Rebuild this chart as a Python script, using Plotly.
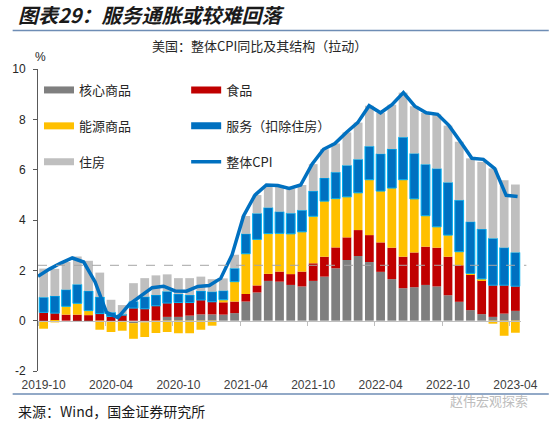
import plotly.graph_objects as go
import pandas as pd

# ---------------- data ----------------
months = pd.date_range("2019-10-01", "2023-04-01", freq="MS").strftime("%Y-%m").tolist()
tick_labels = ["2019-10", "2020-04", "2020-10", "2021-04", "2021-10", "2022-04", "2022-10", "2023-04"]

core_goods = [-0.02, 0, 0, -0.05, -0.05, 0, -0.05, -0.03, -0.1, -0.07,
              0, 0.15, 0.15, 0.2, 0.25, 0.25, 0.24, 0.3, 0.76, 1.12,
              1.58, 1.55, 1.42, 1.36, 1.58, 1.75, 2.08, 2.41, 2.57, 2.33,
              1.94, 1.65, 1.29, 1.33, 1.42, 1.36, 1.01, 0.75, 0.42, 0.26,
              0.15, 0.28, 0.39]
food = [0.33, 0.3, 0.24, 0.24, 0.22, 0.28, 0.17, 0.22, 0.5, 0.47,
        0.59, 0.55, 0.57, 0.52, 0.57, 0.5, 0.49, 0.46, 0.3, 0.28,
        0.28, 0.4, 0.43, 0.59, 0.7, 0.79, 0.83, 0.9, 1.03, 1.07,
        1.17, 1.25, 1.25, 1.38, 1.52, 1.54, 1.53, 1.45, 1.42, 1.35,
        1.26, 1.13, 0.98]
energy = [-0.3, -0.07, 0.33, 0.45, 0.18, -0.36, -0.4, -0.37, -0.62, -0.58,
          -0.49, -0.45, -0.5, -0.5, -0.36, -0.2, 0.1, 0.79, 1.6, 1.83,
          1.6, 1.52, 1.6, 1.58, 1.87, 2.21, 1.94, 1.61, 1.48, 2.2,
          2.04, 2.37, 3.06, 2.13, 1.23, 0.83, 0.86, 0.54, 0.04, 0.05,
          -0.12, -0.6, -0.48]
services_ex_shelter = [0.6, 0.68, 0.66, 0.75, 0.78, 0.66, 0.16, 0.03, 0.26, 0.48,
                       0.43, 0.46, 0.34, 0.3, 0.36, 0.4, 0.36, 0.53, 0.79, 1.03,
                       1.03, 0.86, 0.82, 0.86, 1.0, 0.92, 1.05, 1.25, 1.33, 1.33,
                       1.48, 1.55, 1.69, 1.8, 2.04, 2.31, 2.09, 2.05, 2.05, 1.98,
                       1.86, 1.49, 1.34]
shelter = [1.14, 1.08, 1.1, 1.11, 1.2, 0.97, 0.5, 0.37, 0.73, 0.74,
           0.78, 0.68, 0.63, 0.67, 0.57, 0.5, 0.49, 0.54, 0.71, 0.73,
           0.9, 1.04, 0.98, 1.0, 1.07, 1.14, 1.14, 1.31, 1.46, 1.61,
           1.63, 1.76, 1.77, 1.88, 2.05, 2.16, 2.26, 2.32, 2.52, 2.67,
           2.78, 2.68, 2.7]
cpi = [1.76, 2.05, 2.29, 2.49, 2.33, 1.54, 0.33, 0.12, 0.65, 0.99,
       1.31, 1.37, 1.18, 1.17, 1.36, 1.40, 1.68, 2.62, 4.16, 4.99,
       5.39, 5.37, 5.25, 5.39, 6.22, 6.81, 7.04, 7.48, 7.87, 8.54,
       8.26, 8.58, 9.06, 8.52, 8.26, 8.20, 7.75, 7.11, 6.45, 6.41,
       6.04, 4.98, 4.93]
ref_level = 2.2
y_ticks = [-2, 0, 2, 4, 6, 8, 10]

# ---------------- layout helpers ----------------
W, H = 550, 423
L, R, T, B = 26, 521.5, 69, 371


def px(x):
    return (x - L) / (R - L)


def py(y):
    return (B - y) / (B - T)


C_CORE = "#7F7F7F"
C_FOOD = "#C00000"
C_ENERGY = "#FFC000"
C_SERV = "#0070C0"
C_SERV_EDGE = "#00B0F0"
C_SHELTER = "#BFBFBF"
C_LINE = "#0070C0"

fig = go.Figure()

bar_series = [
    ("核心商品", core_goods, C_CORE, None),
    ("食品", food, C_FOOD, None),
    ("能源商品", energy, C_ENERGY, None),
    ("服务（扣除住房）", services_ex_shelter, C_SERV, C_SERV_EDGE),
    ("住房", shelter, C_SHELTER, None),
]
for name, vals, col, edge in bar_series:
    fig.add_trace(go.Bar(
        x=months, y=vals, name=name, showlegend=False,
        marker=dict(color=col, line=dict(color=edge if edge else col, width=1 if edge else 0)),
        hoverinfo="skip",
    ))

# invisible trace so the zero-line tick axis is rendered
fig.add_trace(go.Scatter(x=list(range(len(months))), y=cpi, xaxis="x2", mode="markers",
                         marker=dict(opacity=0), showlegend=False, hoverinfo="skip"))

fig.add_trace(go.Scatter(
    x=list(range(len(months))), y=cpi, xaxis="x3", name="整体CPI", mode="lines",
    line=dict(color=C_LINE, width=3.5), showlegend=False, hoverinfo="skip",
))

# legend-only entries (wide rectangular swatches)
legend_items = [
    ("核心商品", C_CORE, 7, "legend"),
    ("能源商品", C_ENERGY, 7, "legend"),
    ("住房", C_SHELTER, 7, "legend"),
    ("食品", C_FOOD, 7, "legend2"),
    ("服务（扣除住房）", C_SERV, 7, "legend2"),
    ("整体CPI", C_LINE, 3.5, "legend2"),
]
for i, (name, col, wdt, lg) in enumerate(legend_items):
    fig.add_trace(go.Scatter(
        x=[None], y=[None], mode="lines", name=name, legend=lg, legendgroup=f"g{i}",
        line=dict(color=col, width=wdt), hoverinfo="skip",
    ))

legend_common = dict(
    orientation="v", yanchor="top", xanchor="left", bgcolor="rgba(0,0,0,0)",
    font=dict(family="Noto Sans CJK SC", size=13, color="#262626"),
    tracegroupgap=16, itemwidth=30, traceorder="grouped",
)

fig.update_layout(
    width=W, height=H,
    margin=dict(l=L, r=W - R, t=T, b=H - B, pad=0),
    barmode="relative", bargap=0.22,
    plot_bgcolor="white", paper_bgcolor="white",
    font=dict(family="Noto Sans CJK SC", size=12, color="#333333"),
    showlegend=True,
    legend=dict(x=px(27), y=py(75), **legend_common),
    legend2=dict(x=px(178), y=py(75), **legend_common),
    xaxis=dict(
        type="category", categoryorder="array", categoryarray=months,
        range=[-0.5, len(months) - 0.5], tickmode="array", tickvals=tick_labels,
        ticks="", showline=False, showgrid=False, zeroline=False, ticklabelstandoff=5,
        tickfont=dict(family="Liberation Sans", size=12, color="#404040"),
    ),
    xaxis2=dict(
        overlaying="x", anchor="free", position=(0 - y_ticks[0]) / (y_ticks[-1] - y_ticks[0]),
        range=[-0.5, len(months) - 0.5], tickmode="array",
        tickvals=[months.index(t) - 0.5 for t in tick_labels],
        showticklabels=False, ticks="outside", ticklen=4, tickcolor="#BFBFBF",
        showline=True, linecolor="#BFBFBF", linewidth=1, showgrid=False, zeroline=False,
    ),
    xaxis3=dict(overlaying="x", range=[0, 42.3], visible=False),
    yaxis=dict(
        range=[y_ticks[0], y_ticks[-1]], tickmode="array", tickvals=y_ticks,
        ticktext=[str(v) for v in y_ticks],
        showline=True, linecolor="#595959", linewidth=1, ticks="outside", ticklen=4,
        tickcolor="#595959", showgrid=False, zeroline=False, ticklabelstandoff=5,
        tickfont=dict(family="Liberation Sans", size=12, color="#262626"),
    ),
    shapes=[
        dict(type="line", xref="paper", yref="y", x0=0, x1=px(527), y0=ref_level, y1=ref_level,
             line=dict(color="#A6A6A6", width=1, dash="dash"), layer="above"),
        dict(type="line", xref="paper", yref="paper", x0=px(0), x1=px(550), y0=py(30.5), y1=py(30.5),
             line=dict(color="#6E8DB5", width=1.5)),
        dict(type="line", xref="paper", yref="paper", x0=px(0), x1=px(550), y0=py(394), y1=py(394),
             line=dict(color="#6E8DB5", width=1.5)),
    ],
    annotations=[
        dict(text="<b><i>图表29：服务通胀或较难回落</i></b>", xref="paper", yref="paper",
             x=px(3), y=py(14), xanchor="left", yanchor="middle", showarrow=False,
             font=dict(family="Noto Sans CJK SC", size=20, color="#1a1a1a")),
        dict(text="美国：整体CPI同比及其结构（拉动）", xref="paper", yref="paper",
             x=px(253), y=py(45), xanchor="center", yanchor="middle", showarrow=False,
             font=dict(family="Noto Sans CJK SC", size=13, color="#262626")),
        dict(text="%", xref="paper", yref="paper", x=px(29), y=py(57), xanchor="center",
             yanchor="middle", showarrow=False,
             font=dict(family="Liberation Sans", size=12, color="#262626")),
        dict(text="来源：Wind，国金证券研究所", xref="paper", yref="paper",
             x=px(3), y=py(411), xanchor="left", yanchor="middle", showarrow=False,
             font=dict(family="Noto Sans CJK SC", size=14, color="#1a1a1a")),
        dict(text="赵伟宏观探索", xref="paper", yref="paper",
             x=px(531), y=py(400), xanchor="right", yanchor="middle", showarrow=False,
             font=dict(family="Noto Sans CJK SC", size=13, color="#BDBDBD")),
    ],
)

fig.write_html("out.html", config={"displayModeBar": False},
               post_script="document.body.style.margin='0';document.body.style.padding='0';")
